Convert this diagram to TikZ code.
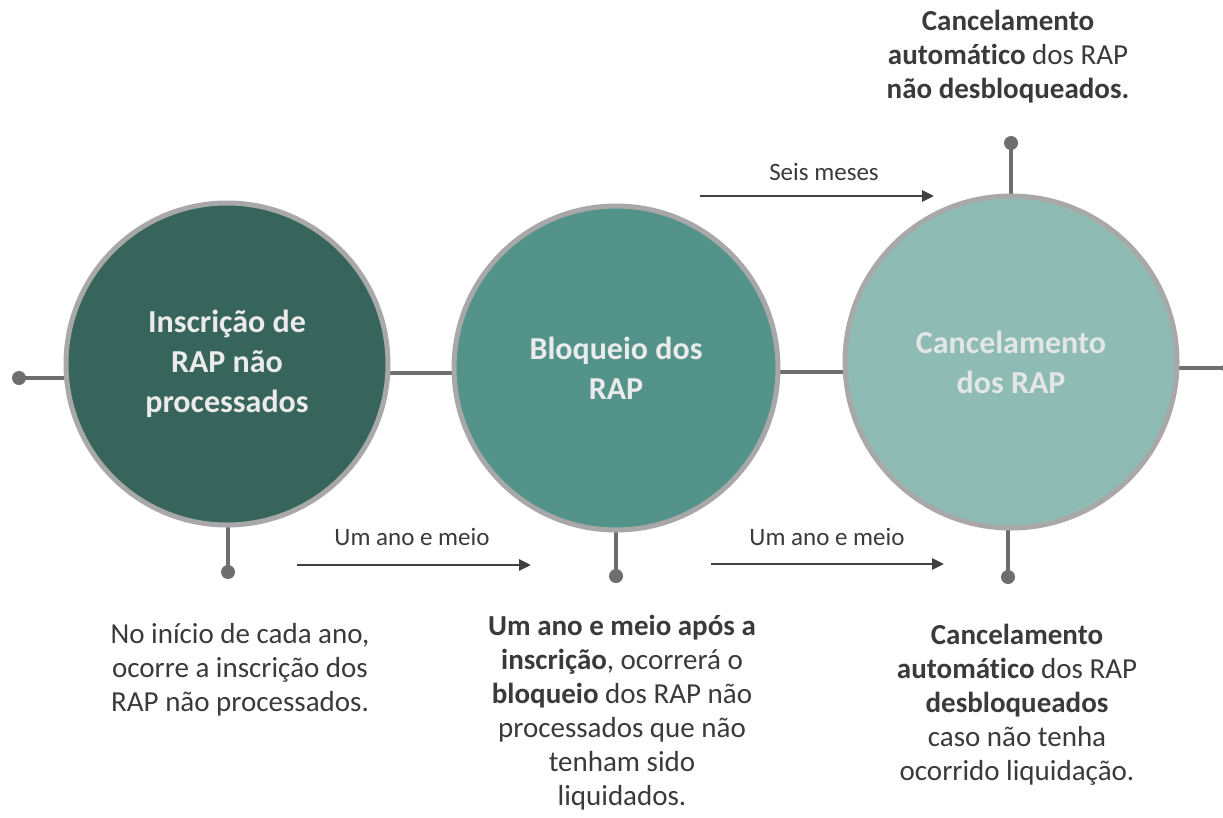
\documentclass[tikz,border=0pt]{standalone}
\usepackage{fontspec}
\setmainfont{Carlito}[Ligatures=CommonOff]
\usetikzlibrary{arrows.meta,backgrounds}
\definecolor{cdark}{HTML}{37645B}
\definecolor{cmid}{HTML}{54938A}
\definecolor{clight}{HTML}{8FBBB5}
\definecolor{cborder}{HTML}{A8A8A8}
\definecolor{cline}{HTML}{6E6E6E}
\definecolor{carrow}{HTML}{404040}
\definecolor{ctext}{HTML}{3A3A3A}
\definecolor{cwhite}{HTML}{EBEBEB}
\tikzset{
  stage/.style={circle, draw=cborder, line width=5pt, inner sep=0pt, align=center,
    text=cwhite, font=\fontsize{32}{40}\selectfont\bfseries},
  conn/.style={draw=cline, line width=3.5pt},
  dot/.style={circle, fill=cline, inner sep=0pt, minimum size=14pt},
  timearrow/.style={draw=carrow, line width=2.8pt, -{Triangle[length=12pt,width=11pt]}},
  timelabel/.style={text=ctext, font=\fontsize{25}{30}\selectfont, inner sep=0pt},
  desc/.style={text=ctext, align=center, inner sep=0pt, font=\fontsize{29}{34}\selectfont}
}
\begin{document}
\begin{tikzpicture}[x=1pt,y=-1pt]
\clip (0,0) rectangle (1223,817);
\useasboundingbox (0,0) rectangle (1223,817);

% stages
\node[stage, fill=cdark, minimum size=322pt] (c1) at (227,364) {Inscrição de\\RAP não\\processados};
\node[stage, fill=cmid, minimum size=324pt] (c2) at (616,368) {Bloqueio dos\\RAP};
\node[stage, fill=clight, minimum size=332pt, text=cwhite!90!clight] (c3) at (1011,362) {Cancelamento\\dos RAP};

% dots
\node[dot] (d0) at (19,378) {};
\node[dot] (d4) at (1229,368) {};
\node[dot] (b1) at (228,572) {};
\node[dot] (b2) at (616,576) {};
\node[dot] (b3) at (1008,577) {};
\node[dot] (t3) at (1011,143) {};

\begin{scope}[on background layer]
\fill[white] (0,0) rectangle (1223,817);
\draw[conn] (d0.center) -- (c1.center |- d0.center);
\draw[conn] ([yshift=-9pt]c1.center) -- ([yshift=-5pt]c2.center);
\draw[conn] ([yshift=-4pt]c2.center) -- ([yshift=-10pt]c3.center);
\draw[conn] (c3.center |- d4.center) -- (d4.center);
\draw[conn] (b1.center) -- (b1.center |- c1.center);
\draw[conn] (b2.center) -- (c2.center);
\draw[conn] (b3.center) -- (b3.center |- c3.center);
\draw[conn] (t3.center) -- (c3.center);
\end{scope}

% time arrows
\coordinate (a1s) at (297,565); \coordinate (a1e) at (531,565);
\coordinate (a2s) at (711,564); \coordinate (a2e) at (944,564);
\coordinate (a3s) at (700,196); \coordinate (a3e) at (934,196);
\draw[timearrow] (a1s) -- (a1e);
\draw[timearrow] (a2s) -- (a2e);
\draw[timearrow] (a3s) -- (a3e);
\node[timelabel] (l1) at (412,537) {Um ano e meio};
\node[timelabel] (l2) at (827,537) {Um ano e meio};
\node[timelabel] (l3) at (824,172) {Seis meses};

% descriptions
\node[desc] (t1) at (240,670) {No início de cada ano,\\ocorre a inscrição dos\\RAP não processados.};
\node[desc] (t2) at (622,713) {{\bfseries Um ano e meio após a}\\{\bfseries inscrição}, ocorrerá o\\{\bfseries bloqueio} dos RAP não\\processados que não\\tenham sido\\liquidados.};
\node[desc] (t3t) at (1017,705) {{\bfseries Cancelamento}\\{\bfseries automático} dos RAP\\{\bfseries desbloqueados}\\caso não tenha\\ocorrido liquidação.};
\node[desc] (t4) at (1008,57) {{\bfseries Cancelamento}\\{\bfseries automático} dos RAP\\{\bfseries não desbloqueados.}};
\end{tikzpicture}
\end{document}
